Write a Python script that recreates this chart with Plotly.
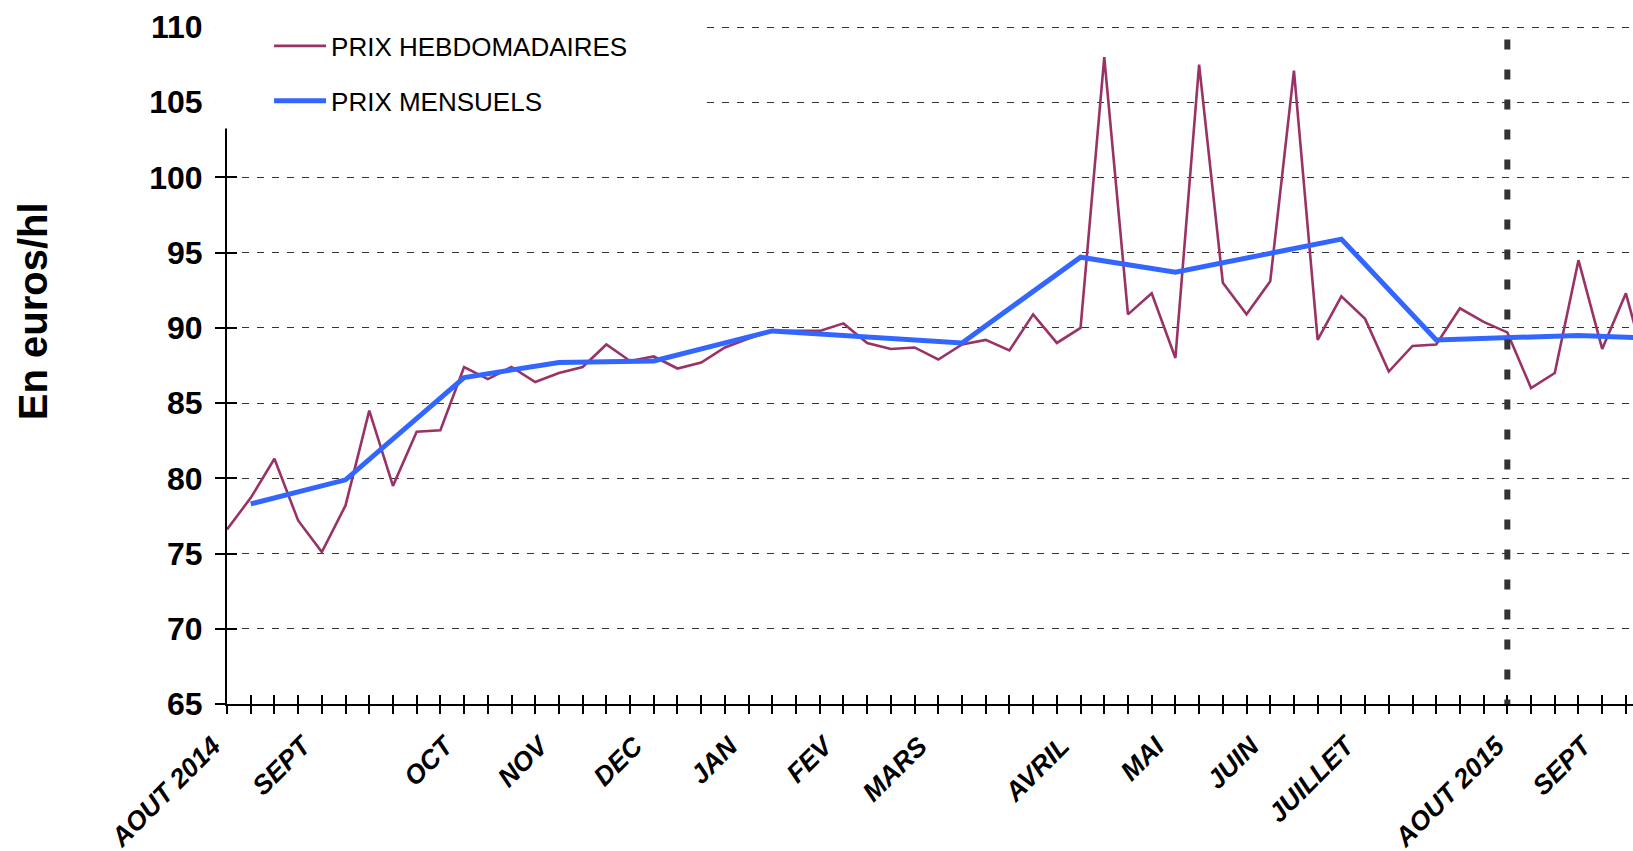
import plotly.graph_objects as go

# ---------------- data ----------------
weekly_prices = [76.6, 78.7, 81.3, 77.2, 75.1, 78.2, 84.5, 79.5, 83.1, 83.2,
                 87.4, 86.6, 87.4, 86.4, 87.0, 87.4, 88.9, 87.8, 88.1, 87.3,
                 87.7, 88.7, 89.3, 89.8, 89.8, 89.8, 90.3, 89.0, 88.6, 88.7,
                 87.9, 88.9, 89.2, 88.5, 90.9, 89.0, 90.0, 108.0, 90.9, 92.3,
                 88.0, 107.5, 93.0, 90.9, 93.1, 107.1, 89.2, 92.1, 90.6, 87.1,
                 88.8, 88.9, 91.3, 90.4, 89.7, 86.0, 87.0, 94.5, 88.6, 92.3,
                 86.5]
weekly_index = list(range(len(weekly_prices)))

monthly_index = [1, 5, 10, 14, 18, 23, 31, 36, 40, 47, 51, 57, 61]
monthly_prices = [78.3, 79.9, 86.7, 87.7, 87.8, 89.8, 89.0, 94.7, 93.7, 95.9,
                  89.2, 89.5, 89.25]

month_label_weeks = [0.2, 4, 10, 14, 18, 22, 26, 30, 36, 40, 44, 48, 54.35, 58]
month_labels = ["AOUT 2014", "SEPT", "OCT", "NOV", "DEC", "JAN", "FEV", "MARS",
                "AVRIL", "MAI", "JUIN", "JUILLET", "AOUT 2015", "SEPT"]

separator_week = 54
y_ticks = [65, 70, 75, 80, 85, 90, 95, 100, 105, 110]

series_names = ["PRIX HEBDOMADAIRES", "PRIX MENSUELS"]
y_title = "En euros/hl"

# ---------------- figure ----------------
FONT = "Liberation Sans, Arial, sans-serif"
X_RANGE = [0, 59.30]
Y_RANGE = [65, 110.2]

fig = go.Figure()
fig.add_trace(go.Scatter(
    x=weekly_index, y=weekly_prices, mode="lines", name=series_names[0],
    line=dict(color="#993366", width=2.6), legendgroup="a"))
fig.add_trace(go.Scatter(
    x=monthly_index, y=monthly_prices, mode="lines", name=series_names[1],
    line=dict(color="#3366FF", width=5), legendgroup="b"))

# empty helper traces so the overlay axes (used for crossing tick marks) are drawn
for xa, ya in (("x2", "y"), ("x3", "y"), ("x", "y2")):
    fig.add_trace(go.Scatter(x=[None], y=[None], xaxis=xa, yaxis=ya,
                             mode="lines", showlegend=False, hoverinfo="skip"))

# vertical dashed separator
fig.add_shape(type="line", xref="x", yref="y",
              x0=separator_week, x1=separator_week, y0=109.17, y1=65,
              line=dict(color="#333333", width=6, dash="10px,20px"),
              layer="above")
# white area behind the legend (covers gridlines and axis top, as in original)
fig.add_shape(type="rect", xref="paper", yref="paper",
              x0=-0.0085, x1=0.3385, y0=0.8464, y1=1.1,
              line=dict(width=0), fillcolor="white", layer="above")

fig.add_annotation(text=y_title, textangle=-90, xref="paper", yref="paper",
                   x=-0.138, y=0.5775, xanchor="center", yanchor="middle",
                   showarrow=False,
                   font=dict(family=FONT, size=40, color="black", weight="bold"))

fig.update_layout(
    width=1633, height=851,
    margin=dict(l=227, r=0, t=23.5, b=147, pad=0, autoexpand=False),
    paper_bgcolor="white", plot_bgcolor="white",
    showlegend=True,
    legend=dict(x=0.0299, y=1.0023, xanchor="left", yanchor="top",
                bgcolor="rgba(0,0,0,0)", borderwidth=0,
                font=dict(family=FONT, size=26, color="black"),
                tracegroupgap=18, itemwidth=52),
    xaxis=dict(range=X_RANGE, tickmode="array", tickvals=month_label_weeks,
               ticktext=month_labels, ticks="", tickangle=-45,
               tickfont=dict(family=FONT, size=26.5, color="black",
                             weight="bold", style="italic"),
               showgrid=False, zeroline=False, showline=True,
               linecolor="black", linewidth=2, ticklabelstandoff=14,
               ticklabelshift=-19, automargin=False),
    xaxis2=dict(range=X_RANGE, overlaying="x", anchor="y", side="bottom",
                tickmode="array", tickvals=weekly_index, ticks="outside",
                ticklen=9, tickwidth=1.5, tickcolor="black",
                showticklabels=False, showgrid=False, zeroline=False,
                showline=False, automargin=False),
    xaxis3=dict(range=X_RANGE, overlaying="x", anchor="y", side="bottom",
                tickmode="array", tickvals=weekly_index, ticks="inside",
                ticklen=9, tickwidth=1.5, tickcolor="black",
                showticklabels=False, showgrid=False, zeroline=False,
                showline=False, automargin=False),
    yaxis=dict(range=Y_RANGE, tickmode="array", tickvals=y_ticks,
               ticks="outside", ticklen=10, tickwidth=1.5, tickcolor="black",
               tickfont=dict(family=FONT, size=32, color="black",
                             weight="bold"),
               showgrid=True, gridcolor="#333333", gridwidth=1.2,
               griddash="7px,8px", zeroline=False, showline=True,
               linecolor="black", linewidth=2, ticklabelstandoff=6,
               automargin=False),
    yaxis2=dict(range=Y_RANGE, overlaying="y", anchor="x", side="left",
                tickmode="array", tickvals=y_ticks, ticks="inside",
                ticklen=10, tickwidth=1.5, tickcolor="black",
                showticklabels=False, showgrid=False, zeroline=False,
                showline=False, automargin=False),
)

fig.write_html("out.html", config={"displayModeBar": False},
               post_script="document.body.style.margin='0px';"
                           "document.body.style.overflow='hidden';")
